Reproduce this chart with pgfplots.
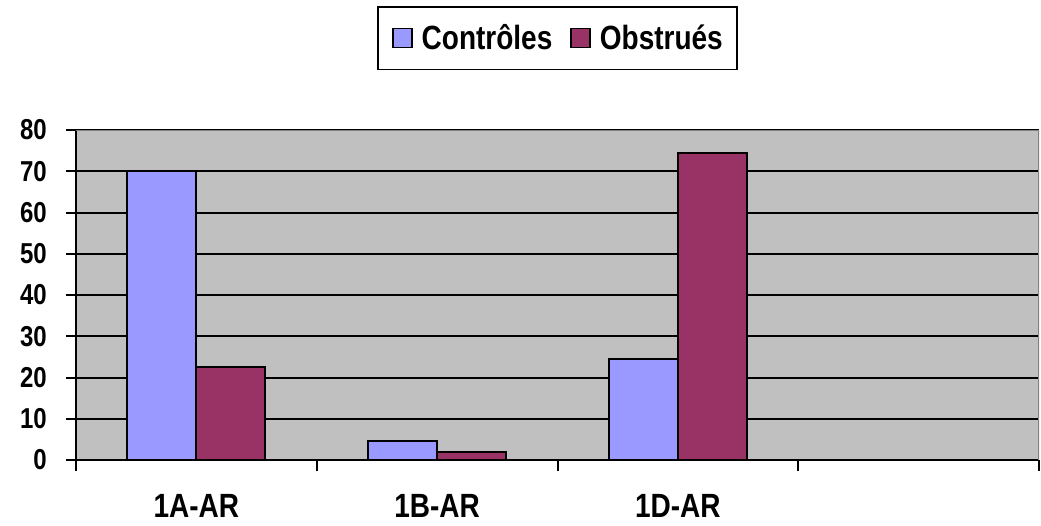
\documentclass[border=0pt]{standalone}
\usepackage{fontspec}
\setmainfont{Liberation Sans}
\usepackage{pgfplots}
\pgfplotsset{compat=1.18}
\definecolor{ctrl}{HTML}{9999FF}
\definecolor{obst}{HTML}{993366}
\definecolor{plotbg}{HTML}{C0C0C0}
\definecolor{bord}{HTML}{808080}
\newcommand{\tl}[2]{\fontsize{#1}{#1}\selectfont\bfseries\scalebox{1}[1.2]{#2}}
\begin{document}
\begin{tikzpicture}
\begin{axis}[
  scale only axis,
  width=963pt, height=330pt,
  xmin=-0.5, xmax=3.5,
  ymin=0, ymax=80,
  axis background/.style={fill=plotbg},
  axis x line*=bottom,
  axis y line*=left,
  axis line style={black, line width=2pt, -},
  ybar=0pt,
  bar width=69pt,
  xtick={0,1,2},
  xticklabels={\tl{28}{1A-AR},\tl{28}{1B-AR},\tl{28}{1D-AR}},
  major x tick style={draw=none},
  xticklabel style={anchor=base, yshift=-47pt, inner sep=0pt},
  extra x ticks={-0.5,0.5,1.5,2.5,3.5},
  extra x tick labels={},
  extra x tick style={tick align=outside, major tick length=11pt, major x tick style={draw=black, line width=2pt}, grid=none},
  ytick={0,10,...,80},
  yticklabels={\tl{24}{0},\tl{24}{10},\tl{24}{20},\tl{24}{30},\tl{24}{40},\tl{24}{50},\tl{24}{60},\tl{24}{70},\tl{24}{80}},
  yticklabel style={anchor=east, inner sep=0pt, xshift=-19pt},
  y tick style={black, line width=2pt},
  tick align=outside,
  major tick length=10pt,
  ymajorgrids,
  grid style={black, line width=2pt},
  legend columns=2,
  legend style={at={(0.5,1)}, anchor=north, yshift=124pt,
    draw=black, line width=1.5pt, fill=white,
    inner xsep=14pt, inner ysep=18pt,
    /tikz/every even column/.append style={column sep=18pt},
    nodes={inner sep=0pt}},
  legend cell align=left,
  legend image code/.code={\draw[#1, line width=1.5pt] (0pt,-9.5pt) rectangle (19pt,9.5pt);},
]
\addplot[fill=ctrl, draw=black, line width=1.8pt] coordinates {(0,70) (1,4.6) (2,24.5)};
\addplot[fill=obst, draw=black, line width=1.8pt] coordinates {(0,22.5) (1,2) (2,74.4)};
\legend{\hspace*{9pt}\tl{28}{Contrôles},\hspace*{9pt}\tl{28}{Obstrués}}
\draw[bord, line width=2pt] (rel axis cs:0,1) -- (rel axis cs:1,1) -- (rel axis cs:1,0);
\end{axis}
\path[use as bounding box] (-76pt,-65pt) rectangle (965pt,460pt);
\end{tikzpicture}
\end{document}
